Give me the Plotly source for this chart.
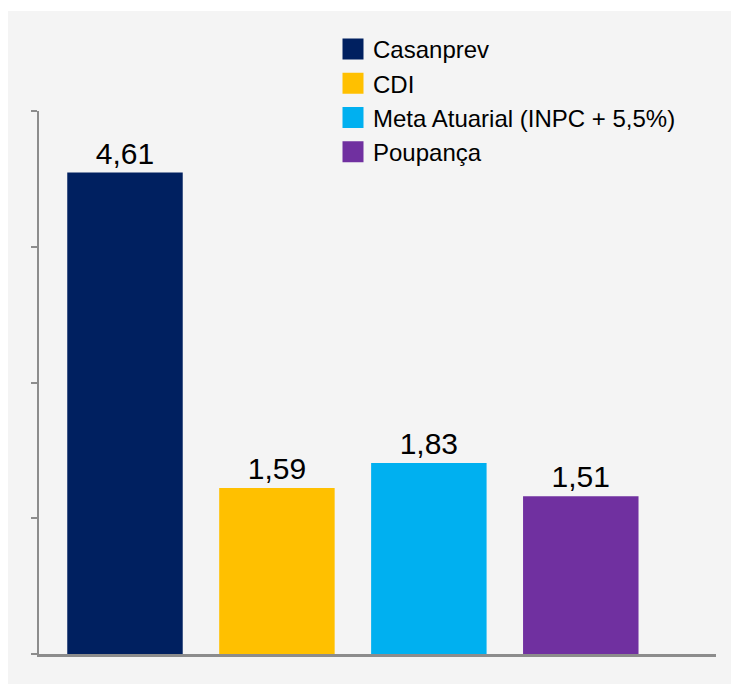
import plotly.graph_objects as go

categories = ["Casanprev", "CDI", "Meta Atuarial (INPC + 5,5%)", "Poupança"]
values = [4.61, 1.59, 1.83, 1.51]
colors = ["#002060", "#FFC000", "#00B0F0", "#7030A0"]

# page has an 8px body margin; figure drawn offset by 8px
OFF = 8
W, H = 739 - OFF, 684 - OFF
L, R, T = 39 - OFF, 23, 111 - OFF
pw = W - L - R
ph = 543
B = H - T - ph

fig = go.Figure()
for cat, val, col in zip(categories, values, colors):
    fig.add_trace(go.Bar(
        x=[cat], y=[val], marker=dict(color=col, line=dict(width=0)),
        width=0.76, showlegend=False, legendgroup=cat,
        texttemplate="%{y:.2f}", textposition="outside",
        textfont=dict(size=30, color="#000000"), cliponaxis=False,
    ))
for cat, col in zip(categories, colors):
    fig.add_trace(go.Scatter(
        x=[None], y=[None], mode="markers", name=cat, legendgroup=cat,
        marker=dict(symbol="square", size=16, color=col, line=dict(width=5, color=col)),
    ))

fig.add_shape(type="rect", xref="paper", yref="paper", layer="below",
              x0=-L / pw - 0.01, x1=(W - L) / pw + 0.01,
              y0=-B / ph - 0.01, y1=(ph + T - 3) / ph,
              fillcolor="#f4f4f4", line=dict(width=0))

fig.update_layout(
    width=W, height=H, margin=dict(l=L, r=R, t=T, b=B, pad=0),
    paper_bgcolor="#ffffff", plot_bgcolor="rgba(0,0,0,0)",
    separators=",.", barmode="overlay",
    font=dict(family="Liberation Sans, Arial, sans-serif", color="#000000"),
    legend=dict(x=(325 - L) / pw, y=(ph + T - 19) / ph, xanchor="left", yanchor="top",
                bgcolor="rgba(0,0,0,0)", font=dict(size=24, color="#000000"),
                tracegroupgap=0, itemsizing="trace"),
    xaxis=dict(range=[-0.566, 3.89], showticklabels=False, ticks="", showgrid=False,
               zeroline=False, showline=True, linecolor="#8c8c8c", linewidth=3),
    yaxis=dict(range=[0, 5.2], tick0=0, dtick=1.3, showticklabels=False, ticks="outside",
               ticklen=6, tickwidth=2, tickcolor="#8c8c8c", showgrid=False, zeroline=False,
               showline=True, linecolor="#8c8c8c", linewidth=2),
)

fig.write_html("out.html")
